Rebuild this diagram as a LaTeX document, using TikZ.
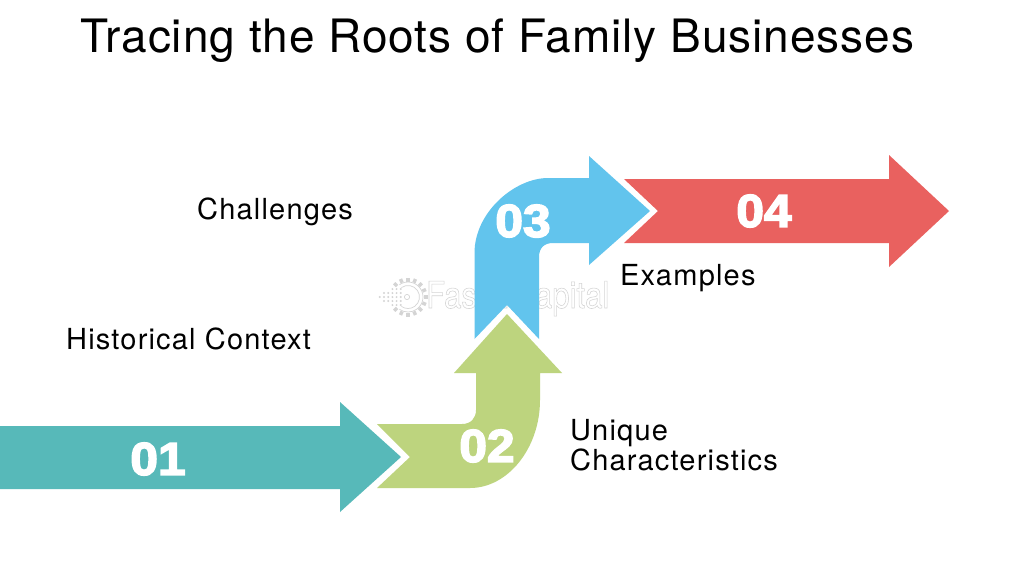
\documentclass[tikz,border=0pt]{standalone}
\usepackage{fontspec}
\setmainfont{TeX Gyre Heros}
\newfontfamily\titlefont[LetterSpace=2.1]{TeX Gyre Heros}
\newfontfamily\labelfont[LetterSpace=4.1]{TeX Gyre Heros}
\newfontfamily\digitfont[FakeStretch=1.08]{Liberation Sans}
\newfontfamily\markfont[FakeStretch=0.84]{TeX Gyre Heros}
\definecolor{tealA}{HTML}{57B9B9}
\definecolor{greenA}{HTML}{BDD47E}
\definecolor{blueA}{HTML}{62C4ED}
\definecolor{redA}{HTML}{E9615F}
\definecolor{wm}{HTML}{D4D4D4}
\newcommand{\heavy}[1]{\special{pdf:code 2 Tr 1.6 w}#1\special{pdf:code 0 Tr 0 w}}
\newcommand{\outlined}[1]{\special{pdf:code 1 Tr 0.55 w}#1\special{pdf:code 0 Tr 0 w}}
\tikzset{
  lbl/.style={anchor=base west,inner sep=0pt,font=\labelfont\fontsize{29}{30}\selectfont,text=black},
  num/.style={anchor=center,inner sep=0pt,text=white,font=\digitfont\bfseries\fontsize{46}{46}\selectfont},
  arrowbody/.style={draw=none}
}
\begin{document}
\begin{tikzpicture}[x=1pt,y=-1pt]
\useasboundingbox[fill=white] (0,0) rectangle (1024,576);
% watermark
\begin{scope}[wm,line width=0.7pt]
  \foreach \a in {-135,-112.5,...,135}{\draw[line width=3.4pt] (408,297)++(\a:15.5) -- ++(\a:4);}
  \fill[white] (408,297) circle (15);
  \draw (408,297)++(-125:11.5) arc[start angle=-125,end angle=125,radius=11.5];
  \draw (408,297)++(-125:15) arc[start angle=-125,end angle=125,radius=15];
  \draw (407,297) circle (2.6);
  \foreach \r/\n in {289/3,293/5,297/6,301/5,305/3}{
    \foreach \i in {1,...,\n}{\fill ({405-\i*4.2},\r) circle (1.1);}}
\end{scope}
\node[anchor=base west,inner sep=0pt,text=wm,font=\markfont\fontsize{37}{38}\selectfont] (mark) at (426,308) {\outlined{FasterCapital}};
% arrows
\fill[tealA,arrowbody] (0,426) -- (340,426) -- (340,402) -- (401,457) -- (340,512) -- (340,489) -- (0,489) -- cycle;
\fill[greenA,arrowbody] (377,424) -- (462,424) .. controls (471,424) and (476,418) .. (476,410) -- (476,373) -- (454,373) -- (507,314) -- (562,373) -- (540,373) -- (540,400) .. controls (540,448) and (508,488) .. (470,488) -- (377,488) -- (410,457) -- cycle;
\fill[blueA,arrowbody] (474.5,339) -- (474.5,253) .. controls (474.5,212) and (515,178) .. (548,178) -- (589,178) -- (589,156) -- (650,211) -- (589,265) -- (589,243) -- (553,243) .. controls (544,243) and (539,248) .. (539,257) -- (539,339) -- (507,305) -- cycle;
\fill[redA,arrowbody] (624,179) -- (889,179) -- (889,155) -- (949,211) -- (889,267) -- (889,243) -- (624,243) -- (658,211) -- cycle;
% numbers
\node[num] (n1) at (158,459) {\heavy{01}};
\node[num] (n2) at (487,446) {\heavy{02}};
\node[num] (n3) at (523,221) {\heavy{03}};
\node[num] (n4) at (764,211) {\heavy{04}};
% labels
\node[anchor=base,inner sep=0pt,text=black,font=\titlefont\fontsize{46}{48}\selectfont] (title) at (497.5,52) {Tracing the Roots of Family Businesses};
\node[lbl] (l1) at (66,349) {Historical Context};
\node[lbl] (l2) at (197,219) {Challenges};
\node[lbl] (l3) at (620,285) {Examples};
\node[lbl] (l4a) at (570,440) {Unique};
\node[lbl] (l4b) at (570,470) {Characteristics};
\end{tikzpicture}
\end{document}
